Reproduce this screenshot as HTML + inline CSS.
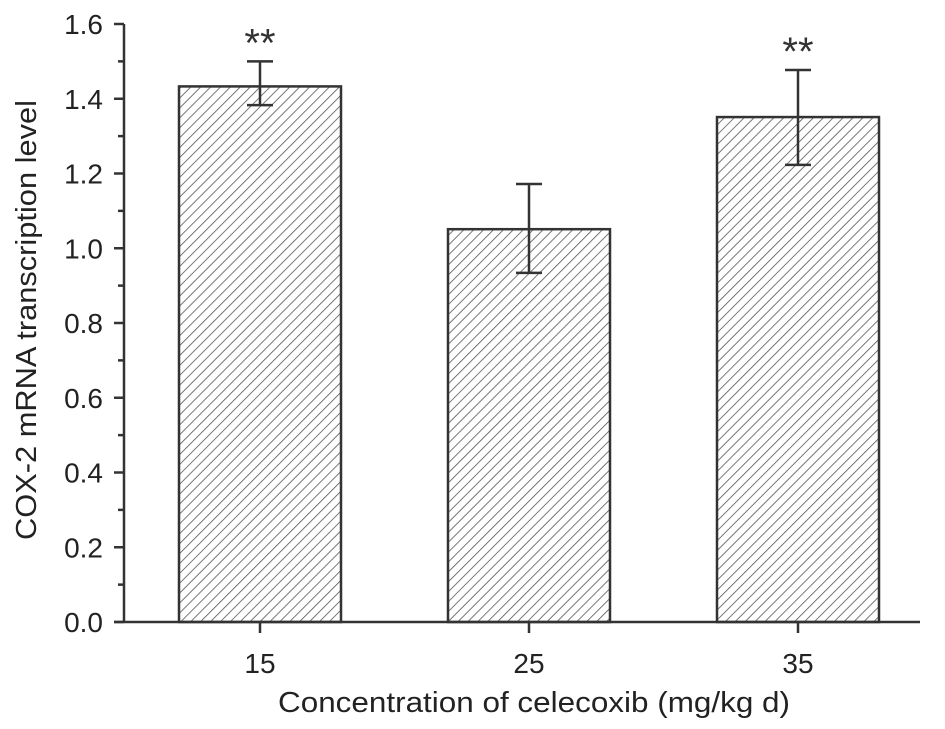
<!DOCTYPE html>
<html><head><meta charset="utf-8"><style>
body{margin:0;background:#fff}
svg{display:block;font-family:"Liberation Sans",sans-serif}
</style></head><body>
<svg id="chart" width="945" height="729" viewBox="0 0 945 729">
<defs>
<pattern id="hatch" patternUnits="userSpaceOnUse" width="7" height="7" patternTransform="rotate(45)">
<rect width="7" height="7" fill="#fff"/>
<line x1="0" y1="0" x2="0" y2="7" stroke="#555" stroke-width="1.6"/>
</pattern>
</defs>
<g id="g"></g>
<text x="534" y="712" font-size="29" text-anchor="middle" fill="#222" textLength="512" lengthAdjust="spacingAndGlyphs">Concentration of celecoxib (mg/kg d)</text>
<text transform="translate(36,320) rotate(-90)" font-size="29" text-anchor="middle" fill="#222" textLength="440" lengthAdjust="spacingAndGlyphs">COX-2 mRNA transcription level</text>
</svg>
<script>
const categories=["15","25","35"];
const values=[1.433,1.051,1.351];
const errUpper=[1.50,1.172,1.477];
const errLower=[1.383,0.934,1.223];
const sigLabels=["**","","**"];
const yTicks=[0,0.2,0.4,0.6,0.8,1.0,1.2,1.4,1.6];
const yTickLabels=["0.0","0.2","0.4","0.6","0.8","1.0","1.2","1.4","1.6"];

const NS="http://www.w3.org/2000/svg";
const g=document.getElementById('g');
const x0=124,xEnd=920,y0=622,yTop=24;
const y=v=>y0-(v/1.6)*(y0-yTop);
const xc=i=>260+i*269;
const bw=162;
function mk(t,a){const e=document.createElementNS(NS,t);for(const k in a)e.setAttribute(k,a[k]);g.appendChild(e);return e;}
categories.forEach((c,i)=>{
 const cx=xc(i);
 const r=mk('rect',{x:cx-bw/2,y:y(values[i]),width:bw,height:y0-y(values[i]),fill:'url(#hatch)',stroke:'#333','stroke-width':2.5});
 
 
 const e=mk('path',{d:`M${cx},${y(errUpper[i])}V${y(errLower[i])}M${cx-13},${y(errUpper[i])}h26M${cx-13},${y(errLower[i])}h26`,stroke:'#333','stroke-width':2.5,fill:'none'});
 
 
 if(sigLabels[i]){const s=mk('text',{x:cx,y:y(errUpper[i])-5,'font-size':40,'text-anchor':'middle',fill:'#333'});s.textContent=sigLabels[i];
 
 }
 const tk=mk('line',{x1:cx,x2:cx,y1:y0,y2:y0+11,stroke:'#333','stroke-width':2.5});
 
 
 const l=mk('text',{x:cx,y:673,'font-size':28,'text-anchor':'middle',fill:'#222'});l.textContent=c;
 
 
});
yTicks.forEach((v,i)=>{
 const t=mk('line',{x1:x0-10,x2:x0,y1:y(v),y2:y(v),stroke:'#333','stroke-width':2.5});
 
 
 if(i<yTicks.length-1){const m=mk('line',{x1:x0-6,x2:x0,y1:y(v+0.1),y2:y(v+0.1),stroke:'#333','stroke-width':2.5});
 
 }
 const l=mk('text',{x:103,y:y(v)+10,'font-size':28,'text-anchor':'end',fill:'#222'});l.textContent=yTickLabels[i];
 
 
});
const ya=mk('line',{x1:x0,x2:x0,y1:yTop,y2:y0+1,stroke:'#333','stroke-width':2.5});


const xa=mk('line',{x1:x0-10,x2:xEnd,y1:y0,y2:y0,stroke:'#333','stroke-width':2.5});


</script>
</body></html>
